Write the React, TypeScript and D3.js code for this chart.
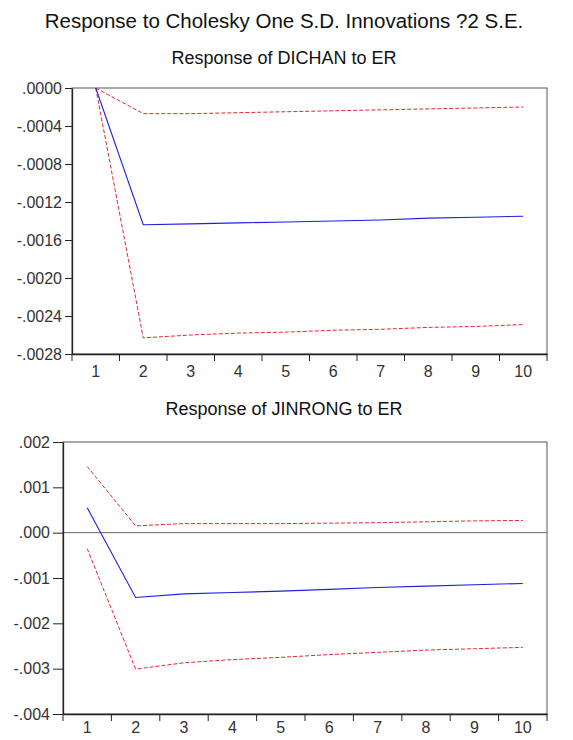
import React, { useEffect, useRef } from 'react';
import * as d3 from 'd3';

// periods
const periods = ['1', '2', '3', '4', '5', '6', '7', '8', '9', '10'];

// Response of DICHAN to ER
const dichanResp = [0, -0.00144, -0.00143, -0.00142, -0.00141, -0.0014, -0.00139, -0.00137, -0.00136, -0.00135];
const dichanUpper = [0, -0.00027, -0.00027, -0.00026, -0.00025, -0.00024, -0.00023, -0.00022, -0.00021, -0.0002];
const dichanLower = [0, -0.00263, -0.0026, -0.00258, -0.00257, -0.00255, -0.00254, -0.00252, -0.00251, -0.00249];
const dichanTicks = [0, -0.0004, -0.0008, -0.0012, -0.0016, -0.002, -0.0024, -0.0028];

// Response of JINRONG to ER
const jinrongResp = [0.00055, -0.00143, -0.00135, -0.00132, -0.00129, -0.00125, -0.00121, -0.00118, -0.00115, -0.00112];
const jinrongUpper = [0.00146, 0.00015, 0.0002, 0.0002, 0.0002, 0.00021, 0.00022, 0.00024, 0.00026, 0.00027];
const jinrongLower = [-0.00035, -0.00301, -0.00287, -0.0028, -0.00275, -0.00269, -0.00264, -0.00259, -0.00256, -0.00253];
const jinrongTicks = [0.002, 0.001, 0, -0.001, -0.002, -0.003, -0.004];

const FONT = '"Liberation Sans", Arial, sans-serif';

function Panel({ title, titleY, resp, upper, lower, ticks, digits, left, top, right, bottom, zeroLine, yTick, xPad }) {
  const ref = useRef(null);

  useEffect(() => {
    const g = d3.select(ref.current);
    g.selectAll('*').remove();

    const x = d3.scaleBand().domain(periods).range([left, right]);
    const y = d3.scaleLinear().domain([d3.min(ticks), d3.max(ticks)]).range([bottom, top]);
    const fmt = (v) => d3.format('.' + digits + 'f')(v).replace('0.', '.').replace('\u2212', '-');

    // frame
    g.append('rect')
      .attr('x', left).attr('y', top)
      .attr('width', right - left).attr('height', bottom - top)
      .attr('fill', 'none').attr('stroke', '#555').attr('stroke-width', 1);

    if (zeroLine) {
      g.append('line')
        .attr('x1', left).attr('x2', right)
        .attr('y1', y(0)).attr('y2', y(0))
        .attr('stroke', '#666').attr('stroke-width', 1);
    }

    // y axis
    const ya = g.append('g')
      .attr('transform', `translate(${left},0)`)
      .call(d3.axisLeft(y).tickValues(ticks).tickFormat(fmt).tickSize(yTick).tickPadding(3).tickSizeOuter(0));
    ya.attr('font-size', 16).attr('font-family', FONT);
    ya.select('.domain').attr('stroke', '#222').attr('stroke-width', 1.3);
    ya.selectAll('.tick line').attr('stroke', '#222');
    ya.selectAll('text').attr('fill', '#333');

    // x axis labels at centres
    const xa = g.append('g')
      .attr('transform', `translate(0,${bottom})`)
      .call(d3.axisBottom(x).tickSize(0).tickPadding(xPad));
    xa.attr('font-size', 16).attr('font-family', FONT);
    xa.select('.domain').attr('stroke', '#222').attr('stroke-width', 1.3);
    xa.selectAll('text').attr('fill', '#333');

    // x tick marks at band boundaries
    const bounds = periods.map((p) => x(p)).concat([right]);
    g.append('g').selectAll('line').data(bounds).enter().append('line')
      .attr('x1', (d) => d).attr('x2', (d) => d)
      .attr('y1', bottom).attr('y2', bottom + 7)
      .attr('stroke', '#222').attr('stroke-width', 1);

    const line = d3.line()
      .x((d, i) => x(periods[i]) + x.bandwidth() / 2)
      .y((d) => y(d));

    g.append('path').datum(upper).attr('d', line)
      .attr('fill', 'none').attr('stroke', '#e8282c').attr('stroke-width', 1).attr('stroke-dasharray', '4,2');
    g.append('path').datum(lower).attr('d', line)
      .attr('fill', 'none').attr('stroke', '#e8282c').attr('stroke-width', 1).attr('stroke-dasharray', '4,2');
    g.append('path').datum(resp).attr('d', line)
      .attr('fill', 'none').attr('stroke', '#2020e0').attr('stroke-width', 1.1);

    g.append('text')
      .attr('x', 284).attr('y', titleY)
      .attr('text-anchor', 'middle')
      .attr('font-family', FONT).attr('font-size', 18).attr('fill', '#111')
      .text(title);
  }, []);

  return <g ref={ref}></g>;
}

export default function App() {
  return (
    <svg width={573} height={740} style={{ position: 'absolute', left: 0, top: 0, background: '#fff' }}>
      <text x={284} y={28} textAnchor="middle" fontFamily={FONT} fontSize={20.5} fill="#111">
        Response to Cholesky One S.D. Innovations ?2 S.E.
      </text>
      <Panel title="Response of DICHAN to ER" titleY={64} resp={dichanResp} upper={dichanUpper} lower={dichanLower}
        ticks={dichanTicks} digits={4} left={72} top={88} right={547} bottom={354} zeroLine={false}
        yTick={7} xPad={12} />
      <Panel title="Response of JINRONG to ER" titleY={415} resp={jinrongResp} upper={jinrongUpper} lower={jinrongLower}
        ticks={jinrongTicks} digits={3} left={63} top={442} right={547} bottom={714} zeroLine={true}
        yTick={10} xPad={8} />
    </svg>
  );
}
